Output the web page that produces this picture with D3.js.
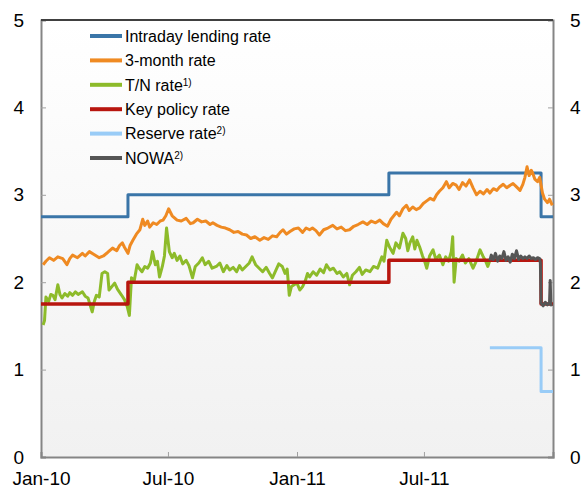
<!DOCTYPE html>
<html>
<head>
<meta charset="utf-8">
<script src="https://cdn.jsdelivr.net/npm/d3@7"></script>
<style>
body { margin:0; background:#fff; }
text { font-family: "Liberation Sans", Arial, sans-serif; fill:#000; }
</style>
</head>
<body>
<svg id="graph"></svg>
<script>
// step series: value holds from that date on
var intradayRate = [["2010-01-01",2.75],["2010-05-05",3.00],["2011-05-12",3.25],["2011-12-15",2.75],["2012-01-01",2.75]]
var keyPolicyRate = [["2010-01-01",1.75],["2010-05-05",2.00],["2011-05-12",2.25],["2011-12-15",1.75],["2012-01-01",1.75]]
var reserveRate = [["2011-10-03",1.25],["2011-12-15",0.75],["2012-01-01",0.75]]

var threeMonthRate = [
["2010-01-04",2.20],["2010-01-08",2.24],["2010-01-13",2.28],["2010-01-19",2.25],["2010-01-25",2.29],["2010-02-01",2.27],
["2010-02-07",2.20],["2010-02-11",2.27],["2010-02-15",2.31],["2010-02-22",2.28],["2010-03-01",2.33],["2010-03-05",2.30],
["2010-03-11",2.35],["2010-03-17",2.32],["2010-03-25",2.28],["2010-03-31",2.30],["2010-04-06",2.34],["2010-04-13",2.39],
["2010-04-19",2.36],["2010-04-23",2.42],["2010-04-27",2.45],["2010-04-30",2.40],["2010-05-05",2.33],["2010-05-08",2.42],
["2010-05-12",2.48],["2010-05-17",2.55],["2010-05-22",2.60],["2010-05-26",2.72],["2010-05-29",2.65],["2010-06-02",2.70],
["2010-06-05",2.63],["2010-06-10",2.68],["2010-06-15",2.66],["2010-06-20",2.70],["2010-06-24",2.71],["2010-06-28",2.76],
["2010-07-02",2.84],["2010-07-07",2.76],["2010-07-14",2.71],["2010-07-20",2.70],["2010-07-27",2.73],["2010-08-02",2.67],
["2010-08-06",2.68],["2010-08-12",2.72],["2010-08-18",2.69],["2010-08-24",2.70],["2010-08-30",2.66],["2010-09-03",2.68],
["2010-09-09",2.65],["2010-09-15",2.63],["2010-09-21",2.62],["2010-09-27",2.60],["2010-10-03",2.57],["2010-10-09",2.58],
["2010-10-15",2.55],["2010-10-21",2.54],["2010-10-27",2.50],["2010-11-02",2.52],["2010-11-09",2.48],["2010-11-15",2.51],
["2010-11-21",2.49],["2010-11-27",2.53],["2010-12-03",2.52],["2010-12-08",2.57],["2010-12-12",2.60],["2010-12-17",2.55],
["2010-12-22",2.58],["2010-12-28",2.61],["2011-01-03",2.62],["2011-01-09",2.57],["2011-01-14",2.62],["2011-01-19",2.60],
["2011-01-23",2.62],["2011-01-28",2.59],["2011-02-02",2.54],["2011-02-08",2.60],["2011-02-14",2.62],["2011-02-21",2.65],
["2011-02-27",2.61],["2011-03-05",2.63],["2011-03-11",2.59],["2011-03-17",2.60],["2011-03-23",2.64],["2011-03-29",2.66],
["2011-04-05",2.69],["2011-04-11",2.66],["2011-04-17",2.70],["2011-04-23",2.68],["2011-04-29",2.71],["2011-05-04",2.67],
["2011-05-10",2.64],["2011-05-15",2.72],["2011-05-19",2.76],["2011-05-23",2.80],["2011-05-27",2.76],["2011-06-01",2.84],
["2011-06-06",2.88],["2011-06-10",2.82],["2011-06-15",2.86],["2011-06-20",2.83],["2011-06-25",2.85],["2011-06-30",2.90],
["2011-07-05",2.93],["2011-07-10",2.96],["2011-07-15",2.94],["2011-07-19",3.00],["2011-07-23",3.04],["2011-07-28",3.08],
["2011-08-02",3.15],["2011-08-06",3.08],["2011-08-11",3.13],["2011-08-16",3.11],["2011-08-20",3.06],["2011-08-25",3.14],
["2011-08-30",3.10],["2011-09-04",3.17],["2011-09-09",3.08],["2011-09-14",3.00],["2011-09-19",3.04],["2011-09-24",3.01],
["2011-09-29",3.06],["2011-10-03",3.02],["2011-10-08",3.07],["2011-10-13",3.05],["2011-10-17",3.09],["2011-10-22",3.12],
["2011-10-27",3.08],["2011-11-01",3.11],["2011-11-05",3.13],["2011-11-10",3.09],["2011-11-15",3.05],["2011-11-19",3.12],
["2011-11-22",3.20],["2011-11-25",3.32],["2011-11-28",3.22],["2011-12-01",3.28],["2011-12-03",3.25],["2011-12-06",3.18],
["2011-12-10",3.15],["2011-12-13",3.20],["2011-12-17",3.02],["2011-12-20",2.95],["2011-12-24",2.91],["2011-12-27",2.95],
["2011-12-31",2.88]]

var tnRate = [
["2010-01-04",1.51],["2010-01-06",1.56],["2010-01-08",1.83],["2010-01-12",1.78],["2010-01-15",1.86],["2010-01-18",1.85],
["2010-01-21",1.80],["2010-01-25",1.97],["2010-01-28",1.86],["2010-01-31",1.82],["2010-02-04",1.87],["2010-02-08",1.84],
["2010-02-11",1.88],["2010-02-15",1.85],["2010-02-19",1.89],["2010-02-23",1.86],["2010-03-01",1.89],["2010-03-05",1.84],
["2010-03-09",1.82],["2010-03-15",1.66],["2010-03-18",1.78],["2010-03-21",1.85],["2010-03-25",1.83],["2010-03-29",2.10],
["2010-04-02",2.12],["2010-04-06",2.10],["2010-04-08",1.91],["2010-04-12",1.95],["2010-04-16",1.99],["2010-04-20",1.92],
["2010-04-26",1.85],["2010-04-30",1.80],["2010-05-04",1.72],["2010-05-07",1.62],["2010-05-10",2.05],["2010-05-14",2.02],
["2010-05-18",2.20],["2010-05-21",2.16],["2010-05-25",2.12],["2010-05-29",2.18],["2010-06-02",2.16],["2010-06-06",2.22],
["2010-06-09",2.35],["2010-06-13",2.20],["2010-06-16",2.24],["2010-06-19",2.06],["2010-06-23",2.18],["2010-06-26",2.30],
["2010-06-29",2.62],["2010-07-03",2.35],["2010-07-07",2.28],["2010-07-10",2.33],["2010-07-14",2.25],["2010-07-18",2.30],
["2010-07-22",2.21],["2010-07-27",2.25],["2010-07-31",2.19],["2010-08-05",2.05],["2010-08-09",2.18],["2010-08-14",2.22],
["2010-08-19",2.28],["2010-08-23",2.20],["2010-08-28",2.24],["2010-09-02",2.16],["2010-09-08",2.18],["2010-09-13",2.22],
["2010-09-18",2.12],["2010-09-23",2.19],["2010-09-27",2.14],["2010-10-02",2.17],["2010-10-07",2.12],["2010-10-11",2.19],
["2010-10-15",2.14],["2010-10-20",2.18],["2010-10-25",2.22],["2010-10-29",2.29],["2010-11-03",2.20],["2010-11-08",2.16],
["2010-11-13",2.12],["2010-11-18",2.17],["2010-11-23",2.10],["2010-11-27",2.05],["2010-12-01",2.12],["2010-12-06",2.21],
["2010-12-11",2.18],["2010-12-15",2.10],["2010-12-18",2.15],["2010-12-21",1.85],["2010-12-24",1.95],["2011-01-01",1.99],
["2011-01-05",1.91],["2011-01-09",1.95],["2011-01-13",2.02],["2011-01-16",2.10],["2011-01-19",2.06],["2011-01-24",2.12],
["2011-01-29",2.08],["2011-02-03",2.15],["2011-02-08",2.11],["2011-02-12",2.20],["2011-02-17",2.14],["2011-02-22",2.16],
["2011-02-27",2.10],["2011-03-03",2.12],["2011-03-08",2.06],["2011-03-13",2.10],["2011-03-17",1.97],["2011-03-21",2.08],
["2011-03-26",2.12],["2011-03-31",2.17],["2011-04-04",2.09],["2011-04-09",2.14],["2011-04-15",2.12],["2011-04-20",2.18],
["2011-04-26",2.16],["2011-05-02",2.29],["2011-05-05",2.24],["2011-05-09",2.48],["2011-05-13",2.40],["2011-05-18",2.33],
["2011-05-22",2.45],["2011-05-27",2.39],["2011-06-01",2.56],["2011-06-05",2.50],["2011-06-08",2.36],["2011-06-11",2.45],
["2011-06-15",2.52],["2011-06-18",2.38],["2011-06-21",2.48],["2011-06-25",2.40],["2011-06-29",2.30],["2011-07-02",2.24],
["2011-07-05",2.16],["2011-07-09",2.30],["2011-07-14",2.37],["2011-07-18",2.26],["2011-07-23",2.31],["2011-07-28",2.20],
["2011-08-01",2.29],["2011-08-05",2.24],["2011-08-09",2.35],["2011-08-11",2.52],["2011-08-13",2.00],["2011-08-16",2.27],
["2011-08-20",2.24],["2011-08-25",2.31],["2011-08-29",2.22],["2011-09-03",2.27],["2011-09-09",2.16],["2011-09-13",2.23],
["2011-09-16",2.30],["2011-09-19",2.37],["2011-09-23",2.30],["2011-09-27",2.24],["2011-09-30",2.18],["2011-10-03",2.25]]

var nowa = [
["2011-10-03",2.25],["2011-10-05",2.31],["2011-10-08",2.26],["2011-10-11",2.33],["2011-10-14",2.24],["2011-10-17",2.30],
["2011-10-20",2.27],["2011-10-23",2.35],["2011-10-26",2.25],["2011-10-29",2.29],["2011-11-01",2.23],["2011-11-04",2.32],
["2011-11-07",2.27],["2011-11-10",2.36],["2011-11-13",2.26],["2011-11-16",2.30],["2011-11-19",2.27],["2011-11-22",2.29],
["2011-11-25",2.27],["2011-11-28",2.30],["2011-12-01",2.27],["2011-12-04",2.28],["2011-12-07",2.26],["2011-12-10",2.28],
["2011-12-13",2.27],["2011-12-14",2.22],["2011-12-15",1.76],["2011-12-18",1.73],["2011-12-21",1.77],["2011-12-24",1.74],
["2011-12-27",1.76],["2011-12-28",2.02],["2011-12-29",1.74],["2011-12-31",1.75]]

var yTicks = [0,1,2,3,4,5]
var xTicks = ["2010-01-01","2010-07-01","2011-01-01","2011-07-01"]
var xTickLabels = ["Jan-10","Jul-10","Jan-11","Jul-11"]

var legendNames = ["Intraday lending rate","3-month rate","T/N rate","Key policy rate","Reserve rate","NOWA"]
var legendNotes = ["","","1)","","2)","2)"]
var colors = ["#3a75a8","#ef8a22","#8dbb2a","#b8160f","#99ccf7","#555555"]

var parse = d3.timeParse("%Y-%m-%d")

var screen = {width:582, height:488}
var margins = {left:41, right:29, top:20, bottom:31}
var graph = {
    width:screen.width-margins.left-margins.right,
    height:screen.height-margins.top-margins.bottom
}

var svg = d3.select("#graph")
    .attr("width", screen.width)
    .attr("height", screen.height)

var grad = svg.append("defs").append("linearGradient")
    .attr("id","bg").attr("x1",0).attr("x2",0).attr("y1",0).attr("y2",1)
grad.append("stop").attr("offset","0%").attr("stop-color","#ffffff")
grad.append("stop").attr("offset","100%").attr("stop-color","#f1f1f1")

var xScale = d3.scaleTime()
    .domain([parse("2010-01-01"), parse("2012-01-01")])
    .range([0, graph.width])
var yScale = d3.scaleLinear()
    .domain([0,5])
    .range([graph.height, 0])

var target = svg.append("g")
    .attr("transform","translate("+margins.left+","+margins.top+")")

target.append("rect")
    .attr("width", graph.width)
    .attr("height", graph.height)
    .attr("fill","url(#bg)")

var drawAxes = function()
{
    var leftAxis = d3.axisLeft(yScale).tickValues(yTicks).tickSize(-5).tickPadding(17).tickFormat(d3.format("d"))
    var rightAxis = d3.axisRight(yScale).tickValues(yTicks).tickSize(-5).tickPadding(17).tickFormat(d3.format("d"))
    var bottomAxis = d3.axisBottom(xScale)
        .tickValues(xTicks.map(parse))
        .tickSize(-5).tickPadding(15)
        .tickFormat(function(d,i){ return xTickLabels[i] })

    var l = target.append("g").call(leftAxis)
    var r = target.append("g").attr("transform","translate("+graph.width+",0)").call(rightAxis)
    var b = target.append("g").attr("transform","translate(0,"+graph.height+")").call(bottomAxis)

    ;[l,r,b].forEach(function(a)
    {
        a.select(".domain").attr("stroke","#858585").attr("stroke-width",2)
        a.selectAll(".tick line").attr("stroke","#a0a0a0")
        a.selectAll("text").style("font-size","19px").attr("fill","#000")
    })
    l.selectAll(".tick").filter(function(d){ return d==0||d==5 }).select("line").remove()
    r.selectAll(".tick").filter(function(d){ return d==0||d==5 }).select("line").remove()
    b.selectAll(".tick").filter(function(d,i){ return i==0 }).select("line").remove()

    target.append("line")
        .attr("x1",0).attr("x2",graph.width)
        .attr("y1",0).attr("y2",0)
        .attr("stroke","#404040").attr("stroke-width",2)
}

var drawSeries = function(data, color, width, step)
{
    var line = d3.line()
        .x(function(d){ return xScale(parse(d[0])) })
        .y(function(d){ return yScale(d[1]) })
    if (step) { line.curve(d3.curveStepAfter) }
    target.append("path")
        .datum(data)
        .attr("fill","none")
        .attr("stroke", color)
        .attr("stroke-width", width)
        .attr("stroke-linejoin","round")
        .attr("d", line)
}

var drawLegend = function()
{
    var legend = svg.append("g").classed("legend", true)
    var rows = legend.selectAll("g")
        .data(legendNames)
        .enter()
        .append("g")
        .attr("transform", function(d,i){ return "translate(90,"+(36+i*24.4)+")" })
    rows.append("line")
        .attr("x1",0).attr("x2",32)
        .attr("stroke", function(d,i){ return colors[i] })
        .attr("stroke-width",4)
    var txt = rows.append("text")
        .attr("x",35)
        .attr("dy","0.36em")
        .style("font-size","16px")
    txt.append("tspan").text(function(d){ return d })
    txt.append("tspan")
        .attr("dy",-5)
        .style("font-size","10px")
        .text(function(d,i){ return legendNotes[i] })
}

drawAxes()
drawSeries(intradayRate, colors[0], 3, true)
drawSeries(threeMonthRate, colors[1], 3, false)
drawSeries(tnRate, colors[2], 3, false)
drawSeries(keyPolicyRate, colors[3], 3.5, true)
drawSeries(reserveRate, colors[4], 3, true)
drawSeries(nowa, colors[5], 3, false)
drawLegend()
</script>
</body>
</html>
